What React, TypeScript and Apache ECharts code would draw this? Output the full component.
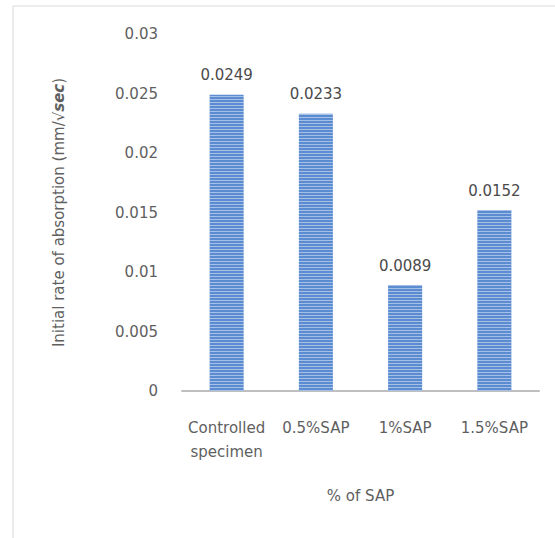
import React, { useEffect, useRef } from "react";
import * as echarts from "echarts";

const categories = ["Controlled\nspecimen", "0.5%SAP", "1%SAP", "1.5%SAP"];
const values = [0.0249, 0.0233, 0.0089, 0.0152];
const yTicks = { min: 0, max: 0.03, interval: 0.005 };
const yTitleMain = "Initial rate of absorption (mm/√";
const yTitleItalic = "sec";
const yTitleEnd = ")";
const xTitle = "% of SAP";

export default function App() {
  const ref = useRef<HTMLDivElement>(null);
  useEffect(() => {
    if (!ref.current) return;
    const chart = echarts.init(ref.current, null, { renderer: "svg" });
    const font = "'DejaVu Sans', 'Open Sans', sans-serif";
    const txt = "#5f5f5f";
    chart.setOption({
      animation: false,
      backgroundColor: "#ffffff",
      textStyle: { fontFamily: font },
      graphic: [
        { type: "line", shape: { x1: 13, y1: 6, x2: 13, y2: 538 }, style: { stroke: "#e6e6e6", lineWidth: 1.5 } },
        { type: "line", shape: { x1: 13, y1: 6, x2: 555, y2: 6 }, style: { stroke: "#e6e6e6", lineWidth: 1.5 } },
      ],
      grid: { left: 182, right: 16, top: 34, bottom: 147 },
      xAxis: {
        type: "category",
        data: categories,
        name: xTitle,
        nameLocation: "middle",
        nameGap: 97,
        nameTextStyle: { color: txt, fontSize: 15, fontFamily: font },
        axisLine: { lineStyle: { color: "#bfbfbf", width: 2 } },
        axisTick: { show: false },
        axisLabel: {
          interval: 0,
          hideOverlap: false,
          color: txt,
          fontSize: 15,
          margin: 25,
          lineHeight: 24,
          fontFamily: font,
        },
      },
      yAxis: {
        type: "value",
        min: yTicks.min,
        max: yTicks.max,
        interval: yTicks.interval,
        name: yTitleMain + "{s|" + yTitleItalic + "}" + yTitleEnd,
        nameLocation: "middle",
        nameGap: 116,
        nameRotate: 90,
        nameTextStyle: {
          color: txt,
          fontSize: 15,
          fontFamily: font,
          rich: { s: { fontStyle: "italic", fontWeight: "bold", color: txt, fontSize: 15, fontFamily: font } },
        },
        axisLine: { show: false },
        axisTick: { show: false },
        splitLine: { show: false },
        axisLabel: { color: txt, fontSize: 15, margin: 24, fontFamily: font },
      },
      series: [
        {
          type: "bar",
          data: values,
          barWidth: 34,
          itemStyle: {
            color: "#5b8bd0",
            decal: {
              symbol: "rect",
              symbolSize: 1,
              dashArrayX: [1, 0],
              dashArrayY: [1, 2],
              rotation: 0,
              color: "rgba(255,255,255,0.45)",
            },
          },
          label: {
            show: true,
            position: "top",
            distance: 12,
            color: "#4a4a4a",
            fontSize: 15,
            fontFamily: font,
            formatter: (p: any) => String(p.value),
          },
        },
      ],
    });
    return () => chart.dispose();
  }, []);
  return <div ref={ref} style={{ position: "absolute", left: 0, top: 0, width: 555, height: 538 }} />;
}
